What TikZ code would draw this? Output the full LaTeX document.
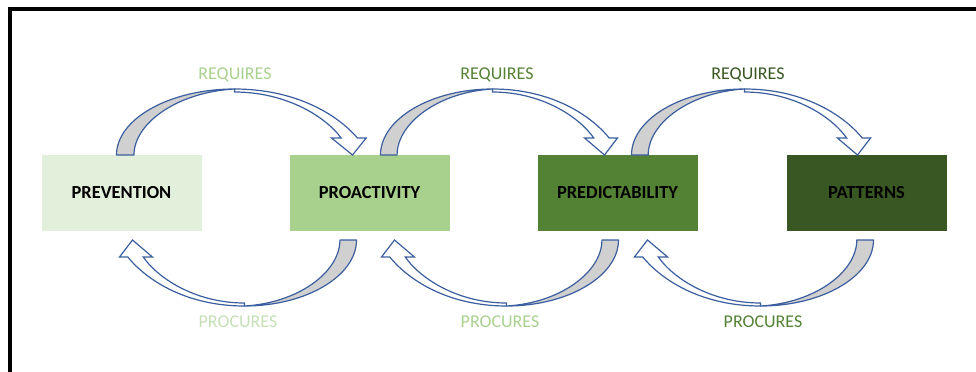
\documentclass[tikz,border=0pt]{standalone}
\usepackage{fontspec}
\setmainfont{Carlito}
\usetikzlibrary{calc}

\definecolor{prevfill}{HTML}{E2EFDA}
\definecolor{proafill}{HTML}{A9D18E}
\definecolor{predfill}{HTML}{548235}
\definecolor{pattfill}{HTML}{385723}
\definecolor{procfaint}{HTML}{C5E0B4}
\definecolor{arrowline}{HTML}{3B5E9E}
\definecolor{bandgray}{HTML}{D0D0D0}

\tikzset{
  box/.style={minimum width=80pt, minimum height=38pt, inner sep=0pt, outer sep=0pt,
    font=\fontsize{9.2}{11}\selectfont\bfseries},
  lbl/.style={font=\fontsize{9}{11}\selectfont, inner sep=0pt},
  bandback/.style={draw=arrowline, fill=bandgray, line width=0.6pt, line join=round},
  bandfront/.style={draw=arrowline, fill=white, line width=0.6pt},
}

% curved block arrow: #1 tail edge, #2 tip, #3 = -1 bends up, 1 bends down
\newcommand{\bentarrow}[3]{%
  \draw[bandback] (#1) .. controls ($(#1)+(0,#3*36)$) and ($(#1)!0.225!(#2)+(0,#3*66)$)
    .. ($(#1)!0.5!(#2)+(0,#3*66)$)
    .. controls ($(#1)!0.26!(#2)+(0,#3*63)$) and ($(#1)!0.074!(#2)+(0,#3*32)$)
    .. ($(#1)!0.074!(#2)$) -- cycle;
  \draw[bandfront] ($(#1)!0.5!(#2)+(0,#3*66)$)
    .. controls ($(#1)!0.75!(#2)+(0,#3*66)$) and ($(#1)!0.93!(#2)+(0,#3*42)$)
    .. ($(#1)!1.021!(#2)+(0,#3*17)$) -- ($(#1)!1.058!(#2)+(0,#3*17)$) -- (#2)
    -- ($(#1)!0.911!(#2)+(0,#3*17)$) -- ($(#1)!0.952!(#2)+(0,#3*17)$)
    .. controls ($(#1)!0.88!(#2)+(0,#3*40)$) and ($(#1)!0.71!(#2)+(0,#3*63)$)
    .. ($(#1)!0.5!(#2)+(0,#3*63)$) -- cycle;
}

\begin{document}
\begin{tikzpicture}[x=0.5pt, y=-0.5pt]
   \useasboundingbox (0,0) rectangle (976,371);
   \clip (0,0) rectangle (976,371);
   \draw[line width=2pt] (9.5,400) -- (9.5,8.7) -- (1000,8.7);

   \node[box, fill=prevfill] (prevention) at (121.5,193) {PREVENTION};
   \node[box, fill=proafill] (proactivity) at (369.5,193) {PROACTIVITY};
   \node[box, fill=predfill] (predictability) at (617.5,193) {PREDICTABILITY};
   \node[box, fill=pattfill] (patterns) at (866.5,193) {PATTERNS};

   \coordinate (req1tail) at ($(prevention.north west)+(75,0)$);
   \coordinate (req1tip) at ($(proactivity.north west)+(63,0)$);
   \coordinate (req2tail) at ($(proactivity.north west)+(91,0)$);
   \coordinate (req2tip) at ($(predictability.north west)+(67,0)$);
   \coordinate (req3tail) at ($(predictability.north west)+(94,0)$);
   \coordinate (req3tip) at ($(patterns.north west)+(71,0)$);

   \coordinate (proc1tail) at ($(proactivity.south west)+(67,9)$);
   \coordinate (proc1tip) at ($(prevention.south west)+(91,9)$);
   \coordinate (proc2tail) at ($(predictability.south west)+(81,9)$);
   \coordinate (proc2tip) at ($(proactivity.south west)+(105,9)$);
   \coordinate (proc3tail) at ($(patterns.south west)+(87,9)$);
   \coordinate (proc3tip) at ($(predictability.south west)+(110,9)$);

   \bentarrow{req1tail}{req1tip}{-1}
   \bentarrow{req2tail}{req2tip}{-1}
   \bentarrow{req3tail}{req3tip}{-1}
   \bentarrow{proc1tail}{proc1tip}{1}
   \bentarrow{proc2tail}{proc2tip}{1}
   \bentarrow{proc3tail}{proc3tip}{1}

   \node[lbl, text=proafill] (req1) at (235,75) {REQUIRES};
   \node[lbl, text=predfill] (req2) at (497,75) {REQUIRES};
   \node[lbl, text=pattfill] (req3) at (748,75) {REQUIRES};
   \node[lbl, text=procfaint] (proc1) at (238,322) {PROCURES};
   \node[lbl, text=proafill] (proc2) at (500,322) {PROCURES};
   \node[lbl, text=predfill] (proc3) at (763,322) {PROCURES};
\end{tikzpicture}
\end{document}
